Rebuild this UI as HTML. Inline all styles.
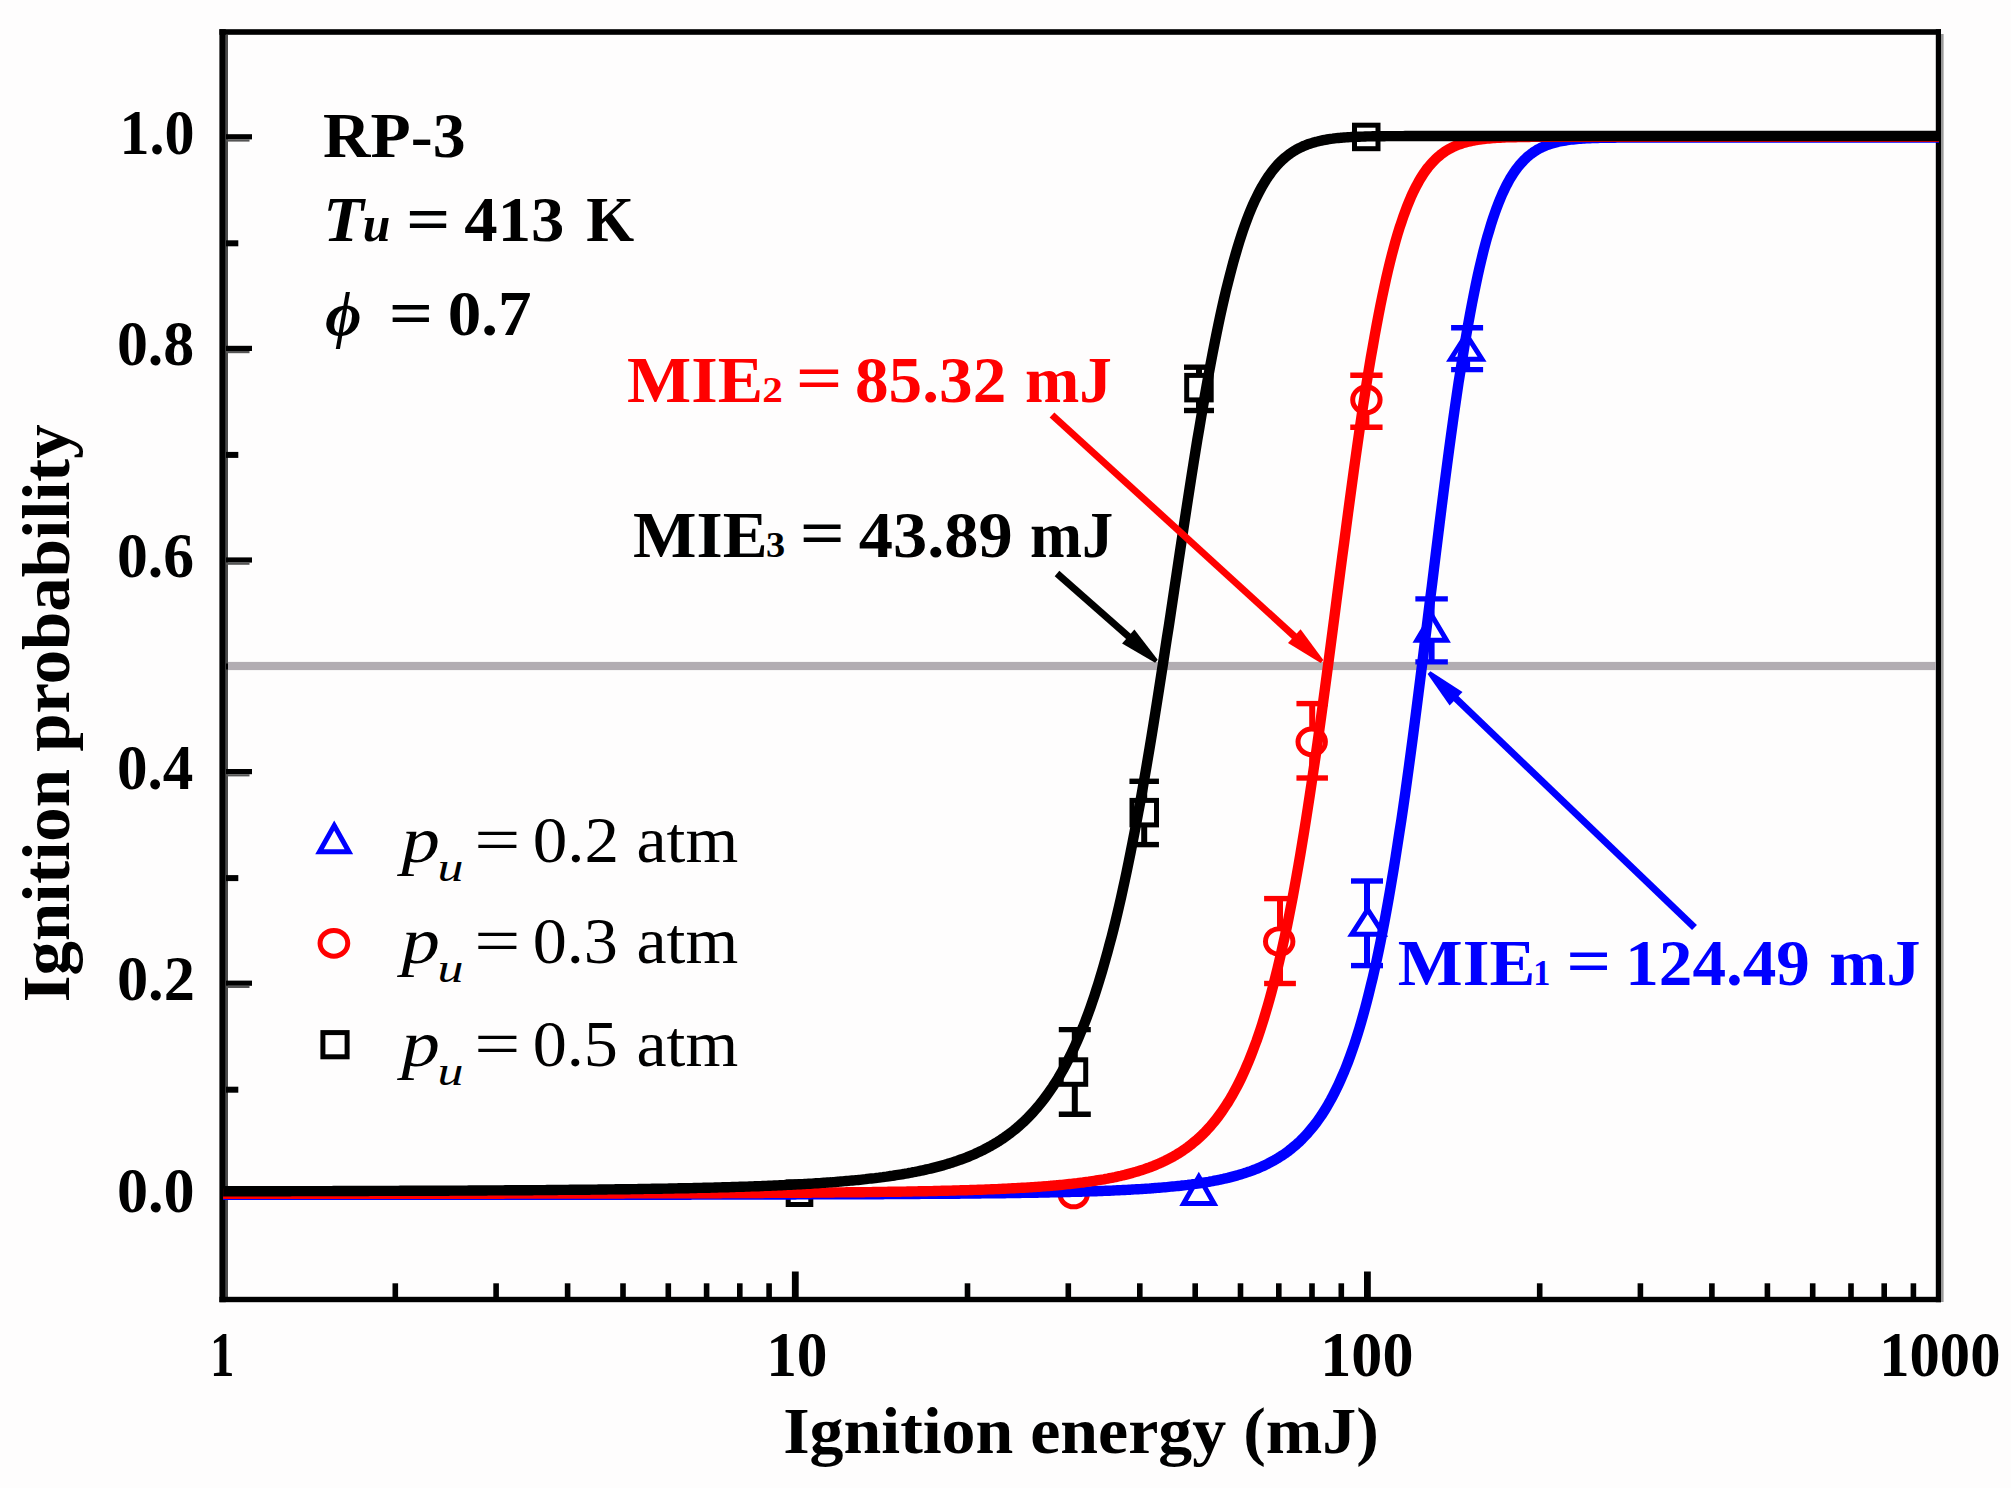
<!DOCTYPE html>
<html lang="en"><head><meta charset="utf-8"><title>Ignition probability vs ignition energy</title>
<style>html,body{margin:0;padding:0;background:#fefdfd;}svg{display:block;}text{font-family:"Liberation Serif",serif;}.b{font-weight:bold;}.i{font-style:italic;}</style></head><body>
<svg width="2011" height="1488" viewBox="0 0 2011 1488">
<rect x="0" y="0" width="2011" height="1488" fill="#fefdfd"/>
<g fill="#000">
<rect x="219.4" y="29.2" width="6.4" height="1273"/>
<rect x="225.8" y="34.8" width="2.2" height="1262.2" fill="#4a4a4a"/>
<rect x="219.4" y="29.2" width="1721.6" height="5.6"/>
<rect x="1935.8" y="29.2" width="5.2" height="1273"/>
<rect x="1941" y="34" width="2.6" height="1268" fill="#9a9a9a"/>
<rect x="219.4" y="1296.8" width="1721.6" height="5.4"/>
<rect x="226" y="1192.2" width="26" height="5.2"/>
<rect x="226" y="1197.4" width="23.5" height="2.2" fill="#555"/>
<rect x="226" y="1086.7" width="12.3" height="6"/>
<rect x="226" y="980.6" width="26" height="5.2"/>
<rect x="226" y="985.8" width="23.5" height="2.2" fill="#555"/>
<rect x="226" y="875.1" width="12.3" height="6"/>
<rect x="226" y="769.0" width="26" height="5.2"/>
<rect x="226" y="774.2" width="23.5" height="2.2" fill="#555"/>
<rect x="226" y="663.5" width="12.3" height="6"/>
<rect x="226" y="557.4" width="26" height="5.2"/>
<rect x="226" y="562.6" width="23.5" height="2.2" fill="#555"/>
<rect x="226" y="451.9" width="12.3" height="6"/>
<rect x="226" y="345.8" width="26" height="5.2"/>
<rect x="226" y="351.0" width="23.5" height="2.2" fill="#555"/>
<rect x="226" y="240.3" width="12.3" height="6"/>
<rect x="226" y="134.2" width="26" height="5.2"/>
<rect x="226" y="139.4" width="23.5" height="2.2" fill="#555"/>
<rect x="392.5" y="1283.3" width="5.6" height="15"/>
<rect x="493.3" y="1283.3" width="5.6" height="15"/>
<rect x="564.8" y="1283.3" width="5.6" height="15"/>
<rect x="620.2" y="1283.3" width="5.6" height="15"/>
<rect x="665.5" y="1283.3" width="5.6" height="15"/>
<rect x="703.8" y="1283.3" width="5.6" height="15"/>
<rect x="737.0" y="1283.3" width="5.6" height="15"/>
<rect x="766.3" y="1283.3" width="5.6" height="15"/>
<rect x="791.9" y="1271.5" width="6.8" height="27"/>
<rect x="964.7" y="1283.3" width="5.6" height="15"/>
<rect x="1065.5" y="1283.3" width="5.6" height="15"/>
<rect x="1137.0" y="1283.3" width="5.6" height="15"/>
<rect x="1192.4" y="1283.3" width="5.6" height="15"/>
<rect x="1237.7" y="1283.3" width="5.6" height="15"/>
<rect x="1276.0" y="1283.3" width="5.6" height="15"/>
<rect x="1309.2" y="1283.3" width="5.6" height="15"/>
<rect x="1338.5" y="1283.3" width="5.6" height="15"/>
<rect x="1364.0" y="1271.5" width="6.8" height="27"/>
<rect x="1536.9" y="1283.3" width="5.6" height="15"/>
<rect x="1637.6" y="1283.3" width="5.6" height="15"/>
<rect x="1709.1" y="1283.3" width="5.6" height="15"/>
<rect x="1764.6" y="1283.3" width="5.6" height="15"/>
<rect x="1809.9" y="1283.3" width="5.6" height="15"/>
<rect x="1848.2" y="1283.3" width="5.6" height="15"/>
<rect x="1881.4" y="1283.3" width="5.6" height="15"/>
<rect x="1910.6" y="1283.3" width="5.6" height="15"/>
</g>
<rect x="228" y="661.9" width="1708" height="8.2" fill="#b2adb2"/>
<path d="M1198.8,1176.7 L1214.0,1203.5 L1183.6,1203.5 Z" fill="#fff" stroke="#00f" stroke-width="5.0" stroke-linejoin="miter"/>
<line x1="1367.0" y1="881.0" x2="1367.0" y2="965.6" stroke="#00f" stroke-width="6.0"/><line x1="1351.0" y1="881.0" x2="1383.0" y2="881.0" stroke="#00f" stroke-width="5.4"/><line x1="1351.0" y1="965.6" x2="1383.0" y2="965.6" stroke="#00f" stroke-width="5.4"/>
<path d="M1367.7,909.6 L1383.6,934.3 L1351.8,934.3 Z" fill="#fff" stroke="#00f" stroke-width="5.0" stroke-linejoin="miter"/>
<line x1="1431.6" y1="598.9" x2="1431.6" y2="661.9" stroke="#00f" stroke-width="6.0"/><line x1="1415.35" y1="598.9" x2="1447.85" y2="598.9" stroke="#00f" stroke-width="5.4"/><line x1="1415.35" y1="661.9" x2="1447.85" y2="661.9" stroke="#00f" stroke-width="5.4"/>
<path d="M1431.7,615.3 L1446.5,640.2 L1416.9,640.2 Z" fill="#fff" stroke="#00f" stroke-width="5.0" stroke-linejoin="miter"/>
<line x1="1467.1" y1="327.8" x2="1467.1" y2="369.6" stroke="#00f" stroke-width="6.0"/><line x1="1451.1" y1="327.8" x2="1483.1" y2="327.8" stroke="#00f" stroke-width="5.4"/><line x1="1451.1" y1="369.6" x2="1483.1" y2="369.6" stroke="#00f" stroke-width="5.4"/>
<path d="M1466.3,334.6 L1482.0,359.2 L1450.6,359.2 Z" fill="#fff" stroke="#00f" stroke-width="5.0" stroke-linejoin="miter"/>
<ellipse cx="1073.7" cy="1194.0" rx="13.70" ry="12.80" fill="#fff" stroke="#f00" stroke-width="5.0"/>
<line x1="1280.0" y1="898.6" x2="1280.0" y2="983.5" stroke="#f00" stroke-width="6.0"/><line x1="1264.1" y1="898.6" x2="1295.9" y2="898.6" stroke="#f00" stroke-width="5.4"/><line x1="1264.1" y1="983.5" x2="1295.9" y2="983.5" stroke="#f00" stroke-width="5.4"/>
<ellipse cx="1279.2" cy="941.5" rx="13.70" ry="12.80" fill="#fff" stroke="#f00" stroke-width="5.0"/>
<line x1="1312.2" y1="703.6" x2="1312.2" y2="778.0" stroke="#f00" stroke-width="6.0"/><line x1="1296.45" y1="703.6" x2="1327.95" y2="703.6" stroke="#f00" stroke-width="5.4"/><line x1="1296.45" y1="778.0" x2="1327.95" y2="778.0" stroke="#f00" stroke-width="5.4"/>
<ellipse cx="1311.7" cy="741.8" rx="13.70" ry="12.80" fill="#fff" stroke="#f00" stroke-width="5.0"/>
<line x1="1366.4" y1="375.3" x2="1366.4" y2="427.2" stroke="#f00" stroke-width="6.0"/><line x1="1350.25" y1="375.3" x2="1382.5500000000002" y2="375.3" stroke="#f00" stroke-width="5.4"/><line x1="1350.25" y1="427.2" x2="1382.5500000000002" y2="427.2" stroke="#f00" stroke-width="5.4"/>
<ellipse cx="1366.4" cy="399.8" rx="13.70" ry="12.80" fill="#fff" stroke="#f00" stroke-width="5.0"/>
<rect x="788.2" y="1181.9" width="22.6" height="22.6" fill="#fff" stroke="#000" stroke-width="5.0"/>
<line x1="1074.8" y1="1029.6" x2="1074.8" y2="1114.3" stroke="#000" stroke-width="6.0"/><line x1="1058.8" y1="1029.6" x2="1090.8" y2="1029.6" stroke="#000" stroke-width="5.4"/><line x1="1058.8" y1="1114.3" x2="1090.8" y2="1114.3" stroke="#000" stroke-width="5.4"/>
<rect x="1061.2" y="1059.8" width="24.5" height="24.5" fill="#fff" stroke="#000" stroke-width="5.0"/>
<line x1="1144.2" y1="781.3" x2="1144.2" y2="844.6" stroke="#000" stroke-width="6.0"/><line x1="1129.45" y1="781.3" x2="1158.95" y2="781.3" stroke="#000" stroke-width="5.4"/><line x1="1129.45" y1="844.6" x2="1158.95" y2="844.6" stroke="#000" stroke-width="5.4"/>
<rect x="1132.0" y="800.4" width="24.5" height="24.5" fill="#fff" stroke="#000" stroke-width="5.0"/>
<line x1="1199.0" y1="367.2" x2="1199.0" y2="410.5" stroke="#000" stroke-width="6.0"/><line x1="1184.0" y1="367.2" x2="1214.0" y2="367.2" stroke="#000" stroke-width="5.4"/><line x1="1184.0" y1="410.5" x2="1214.0" y2="410.5" stroke="#000" stroke-width="5.4"/>
<rect x="1186.7" y="375.4" width="24.5" height="24.5" fill="#fff" stroke="#000" stroke-width="5.0"/>
<rect x="1354.5" y="125.2" width="23.5" height="23.5" fill="#fff" stroke="#000" stroke-width="5.0"/>
<rect x="1380" y="140.5" width="0" height="0" fill="none"/>
<path transform="translate(0,0.0)" d="M223.1,1194.9 L225.0,1194.9 L226.9,1194.9 L228.8,1194.9 L230.7,1194.9 L232.6,1194.9 L234.5,1194.9 L236.4,1194.9 L238.4,1194.9 L240.3,1194.9 L242.2,1194.9 L244.1,1194.9 L246.0,1194.9 L247.9,1194.9 L249.8,1194.9 L251.7,1194.9 L253.6,1194.9 L255.5,1194.9 L257.4,1194.9 L259.3,1194.9 L261.2,1194.9 L263.1,1194.9 L265.0,1194.9 L267.0,1194.9 L268.9,1194.9 L270.8,1194.9 L272.7,1194.9 L274.6,1194.9 L276.5,1194.9 L278.4,1194.9 L280.3,1194.9 L282.2,1194.9 L284.1,1194.9 L286.0,1194.9 L287.9,1194.9 L289.8,1194.9 L291.7,1194.9 L293.6,1194.9 L295.5,1194.9 L297.5,1194.9 L299.4,1194.9 L301.3,1194.9 L303.2,1194.9 L305.1,1194.9 L307.0,1194.9 L308.9,1194.9 L310.8,1194.9 L312.7,1194.9 L314.6,1194.9 L316.5,1194.9 L318.4,1194.9 L320.3,1194.9 L322.2,1194.9 L324.1,1194.9 L326.1,1194.9 L328.0,1194.9 L329.9,1194.9 L331.8,1194.9 L333.7,1194.9 L335.6,1194.9 L337.5,1194.9 L339.4,1194.9 L341.3,1194.9 L343.2,1194.9 L345.1,1194.9 L347.0,1194.9 L348.9,1194.9 L350.8,1194.9 L352.7,1194.9 L354.7,1194.9 L356.6,1194.9 L358.5,1194.9 L360.4,1194.9 L362.3,1194.9 L364.2,1194.9 L366.1,1194.9 L368.0,1194.9 L369.9,1194.9 L371.8,1194.9 L373.7,1194.9 L375.6,1194.9 L377.5,1194.9 L379.4,1194.9 L381.3,1194.9 L383.3,1194.9 L385.2,1194.9 L387.1,1194.9 L389.0,1194.9 L390.9,1194.9 L392.8,1194.9 L394.7,1194.9 L396.6,1194.9 L398.5,1194.9 L400.4,1194.9 L402.3,1194.9 L404.2,1194.9 L406.1,1194.9 L408.0,1194.9 L409.9,1194.8 L411.8,1194.8 L413.8,1194.8 L415.7,1194.8 L417.6,1194.8 L419.5,1194.8 L421.4,1194.8 L423.3,1194.8 L425.2,1194.8 L427.1,1194.8 L429.0,1194.8 L430.9,1194.8 L432.8,1194.8 L434.7,1194.8 L436.6,1194.8 L438.5,1194.8 L440.4,1194.8 L442.4,1194.8 L444.3,1194.8 L446.2,1194.8 L448.1,1194.8 L450.0,1194.8 L451.9,1194.8 L453.8,1194.8 L455.7,1194.8 L457.6,1194.8 L459.5,1194.8 L461.4,1194.8 L463.3,1194.8 L465.2,1194.8 L467.1,1194.8 L469.0,1194.8 L471.0,1194.8 L472.9,1194.8 L474.8,1194.8 L476.7,1194.8 L478.6,1194.8 L480.5,1194.8 L482.4,1194.8 L484.3,1194.8 L486.2,1194.8 L488.1,1194.8 L490.0,1194.8 L491.9,1194.8 L493.8,1194.8 L495.7,1194.8 L497.6,1194.8 L499.6,1194.8 L501.5,1194.8 L503.4,1194.8 L505.3,1194.8 L507.2,1194.8 L509.1,1194.8 L511.0,1194.8 L512.9,1194.8 L514.8,1194.8 L516.7,1194.8 L518.6,1194.8 L520.5,1194.8 L522.4,1194.8 L524.3,1194.8 L526.2,1194.8 L528.1,1194.8 L530.1,1194.8 L532.0,1194.8 L533.9,1194.8 L535.8,1194.8 L537.7,1194.8 L539.6,1194.8 L541.5,1194.8 L543.4,1194.8 L545.3,1194.8 L547.2,1194.8 L549.1,1194.8 L551.0,1194.8 L552.9,1194.8 L554.8,1194.8 L556.7,1194.8 L558.7,1194.8 L560.6,1194.8 L562.5,1194.8 L564.4,1194.8 L566.3,1194.8 L568.2,1194.8 L570.1,1194.8 L572.0,1194.8 L573.9,1194.8 L575.8,1194.8 L577.7,1194.8 L579.6,1194.8 L581.5,1194.8 L583.4,1194.8 L585.3,1194.8 L587.3,1194.8 L589.2,1194.8 L591.1,1194.8 L593.0,1194.8 L594.9,1194.8 L596.8,1194.7 L598.7,1194.7 L600.6,1194.7 L602.5,1194.7 L604.4,1194.7 L606.3,1194.7 L608.2,1194.7 L610.1,1194.7 L612.0,1194.7 L613.9,1194.7 L615.9,1194.7 L617.8,1194.7 L619.7,1194.7 L621.6,1194.7 L623.5,1194.7 L625.4,1194.7 L627.3,1194.7 L629.2,1194.7 L631.1,1194.7 L633.0,1194.7 L634.9,1194.7 L636.8,1194.7 L638.7,1194.7 L640.6,1194.7 L642.5,1194.7 L644.4,1194.7 L646.4,1194.7 L648.3,1194.7 L650.2,1194.7 L652.1,1194.7 L654.0,1194.7 L655.9,1194.7 L657.8,1194.7 L659.7,1194.7 L661.6,1194.7 L663.5,1194.7 L665.4,1194.7 L667.3,1194.7 L669.2,1194.7 L671.1,1194.7 L673.0,1194.7 L675.0,1194.7 L676.9,1194.7 L678.8,1194.7 L680.7,1194.7 L682.6,1194.7 L684.5,1194.7 L686.4,1194.7 L688.3,1194.7 L690.2,1194.7 L692.1,1194.6 L694.0,1194.6 L695.9,1194.6 L697.8,1194.6 L699.7,1194.6 L701.6,1194.6 L703.6,1194.6 L705.5,1194.6 L707.4,1194.6 L709.3,1194.6 L711.2,1194.6 L713.1,1194.6 L715.0,1194.6 L716.9,1194.6 L718.8,1194.6 L720.7,1194.6 L722.6,1194.6 L724.5,1194.6 L726.4,1194.6 L728.3,1194.6 L730.2,1194.6 L732.2,1194.6 L734.1,1194.6 L736.0,1194.6 L737.9,1194.6 L739.8,1194.6 L741.7,1194.6 L743.6,1194.6 L745.5,1194.6 L747.4,1194.6 L749.3,1194.6 L751.2,1194.6 L753.1,1194.5 L755.0,1194.5 L756.9,1194.5 L758.8,1194.5 L760.7,1194.5 L762.7,1194.5 L764.6,1194.5 L766.5,1194.5 L768.4,1194.5 L770.3,1194.5 L772.2,1194.5 L774.1,1194.5 L776.0,1194.5 L777.9,1194.5 L779.8,1194.5 L781.7,1194.5 L783.6,1194.5 L785.5,1194.5 L787.4,1194.5 L789.3,1194.5 L791.3,1194.5 L793.2,1194.5 L795.1,1194.5 L797.0,1194.4 L798.9,1194.4 L800.8,1194.4 L802.7,1194.4 L804.6,1194.4 L806.5,1194.4 L808.4,1194.4 L810.3,1194.4 L812.2,1194.4 L814.1,1194.4 L816.0,1194.4 L817.9,1194.4 L819.9,1194.4 L821.8,1194.4 L823.7,1194.4 L825.6,1194.4 L827.5,1194.4 L829.4,1194.4 L831.3,1194.4 L833.2,1194.3 L835.1,1194.3 L837.0,1194.3 L838.9,1194.3 L840.8,1194.3 L842.7,1194.3 L844.6,1194.3 L846.5,1194.3 L848.5,1194.3 L850.4,1194.3 L852.3,1194.3 L854.2,1194.3 L856.1,1194.3 L858.0,1194.3 L859.9,1194.2 L861.8,1194.2 L863.7,1194.2 L865.6,1194.2 L867.5,1194.2 L869.4,1194.2 L871.3,1194.2 L873.2,1194.2 L875.1,1194.2 L877.0,1194.2 L879.0,1194.2 L880.9,1194.2 L882.8,1194.2 L884.7,1194.1 L886.6,1194.1 L888.5,1194.1 L890.4,1194.1 L892.3,1194.1 L894.2,1194.1 L896.1,1194.1 L898.0,1194.1 L899.9,1194.1 L901.8,1194.1 L903.7,1194.0 L905.6,1194.0 L907.6,1194.0 L909.5,1194.0 L911.4,1194.0 L913.3,1194.0 L915.2,1194.0 L917.1,1194.0 L919.0,1194.0 L920.9,1193.9 L922.8,1193.9 L924.7,1193.9 L926.6,1193.9 L928.5,1193.9 L930.4,1193.9 L932.3,1193.9 L934.2,1193.9 L936.2,1193.8 L938.1,1193.8 L940.0,1193.8 L941.9,1193.8 L943.8,1193.8 L945.7,1193.8 L947.6,1193.8 L949.5,1193.7 L951.4,1193.7 L953.3,1193.7 L955.2,1193.7 L957.1,1193.7 L959.0,1193.7 L960.9,1193.6 L962.8,1193.6 L964.8,1193.6 L966.7,1193.6 L968.6,1193.6 L970.5,1193.6 L972.4,1193.5 L974.3,1193.5 L976.2,1193.5 L978.1,1193.5 L980.0,1193.5 L981.9,1193.4 L983.8,1193.4 L985.7,1193.4 L987.6,1193.4 L989.5,1193.4 L991.4,1193.3 L993.3,1193.3 L995.3,1193.3 L997.2,1193.3 L999.1,1193.2 L1001.0,1193.2 L1002.9,1193.2 L1004.8,1193.2 L1006.7,1193.1 L1008.6,1193.1 L1010.5,1193.1 L1012.4,1193.1 L1014.3,1193.0 L1016.2,1193.0 L1018.1,1193.0 L1020.0,1193.0 L1021.9,1192.9 L1023.9,1192.9 L1025.8,1192.9 L1027.7,1192.8 L1029.6,1192.8 L1031.5,1192.8 L1033.4,1192.7 L1035.3,1192.7 L1037.2,1192.7 L1039.1,1192.6 L1041.0,1192.6 L1042.9,1192.6 L1044.8,1192.5 L1046.7,1192.5 L1048.6,1192.5 L1050.5,1192.4 L1052.5,1192.4 L1054.4,1192.3 L1056.3,1192.3 L1058.2,1192.2 L1060.1,1192.2 L1062.0,1192.2 L1063.9,1192.1 L1065.8,1192.1 L1067.7,1192.0 L1069.6,1192.0 L1071.5,1191.9 L1073.4,1191.9 L1075.3,1191.8 L1077.2,1191.8 L1079.1,1191.7 L1081.0,1191.7 L1083.0,1191.6 L1084.9,1191.5 L1086.8,1191.5 L1088.7,1191.4 L1090.6,1191.4 L1092.5,1191.3 L1094.4,1191.2 L1096.3,1191.2 L1098.2,1191.1 L1100.1,1191.0 L1102.0,1191.0 L1103.9,1190.9 L1105.8,1190.8 L1107.7,1190.7 L1109.6,1190.7 L1111.6,1190.6 L1113.5,1190.5 L1115.4,1190.4 L1117.3,1190.3 L1119.2,1190.2 L1121.1,1190.1 L1123.0,1190.0 L1124.9,1190.0 L1126.8,1189.9 L1128.7,1189.8 L1130.6,1189.7 L1132.5,1189.5 L1134.4,1189.4 L1136.3,1189.3 L1138.2,1189.2 L1140.2,1189.1 L1142.1,1189.0 L1144.0,1188.9 L1145.9,1188.7 L1147.8,1188.6 L1149.7,1188.5 L1151.6,1188.3 L1153.5,1188.2 L1155.4,1188.0 L1157.3,1187.9 L1159.2,1187.7 L1161.1,1187.6 L1163.0,1187.4 L1164.9,1187.3 L1166.8,1187.1 L1168.8,1186.9 L1170.7,1186.7 L1172.6,1186.5 L1174.5,1186.4 L1176.4,1186.2 L1178.3,1186.0 L1180.2,1185.8 L1182.1,1185.5 L1184.0,1185.3 L1185.9,1185.1 L1187.8,1184.9 L1189.7,1184.6 L1191.6,1184.4 L1193.5,1184.1 L1195.4,1183.9 L1197.3,1183.6 L1199.3,1183.3 L1201.2,1183.0 L1203.1,1182.7 L1205.0,1182.4 L1206.9,1182.1 L1208.8,1181.8 L1210.7,1181.4 L1212.6,1181.1 L1214.5,1180.7 L1216.4,1180.3 L1218.3,1180.0 L1220.2,1179.6 L1222.1,1179.2 L1224.0,1178.7 L1225.9,1178.3 L1227.9,1177.9 L1229.8,1177.4 L1231.7,1176.9 L1233.6,1176.4 L1235.5,1175.9 L1237.4,1175.4 L1239.3,1174.8 L1241.2,1174.2 L1243.1,1173.6 L1245.0,1173.0 L1246.9,1172.4 L1248.8,1171.7 L1250.7,1171.1 L1252.6,1170.4 L1254.5,1169.6 L1256.5,1168.9 L1258.4,1168.1 L1260.3,1167.3 L1262.2,1166.4 L1264.1,1165.6 L1266.0,1164.6 L1267.9,1163.7 L1269.8,1162.7 L1271.7,1161.7 L1273.6,1160.7 L1275.5,1159.6 L1277.4,1158.4 L1279.3,1157.3 L1281.2,1156.0 L1283.1,1154.8 L1285.1,1153.5 L1287.0,1152.1 L1288.9,1150.7 L1290.8,1149.2 L1292.7,1147.6 L1294.6,1146.0 L1296.5,1144.4 L1298.4,1142.7 L1300.3,1140.9 L1302.2,1139.0 L1304.1,1137.0 L1306.0,1135.0 L1307.9,1132.9 L1309.8,1130.7 L1311.7,1128.4 L1313.6,1126.1 L1315.6,1123.6 L1317.5,1121.0 L1319.4,1118.3 L1321.3,1115.6 L1323.2,1112.6 L1325.1,1109.6 L1327.0,1106.5 L1328.9,1103.2 L1330.8,1099.8 L1332.7,1096.2 L1334.6,1092.5 L1336.5,1088.7 L1338.4,1084.7 L1340.3,1080.5 L1342.2,1076.1 L1344.2,1071.6 L1346.1,1066.9 L1348.0,1062.0 L1349.9,1056.9 L1351.8,1051.6 L1353.7,1046.1 L1355.6,1040.3 L1357.5,1034.4 L1359.4,1028.2 L1361.3,1021.7 L1363.2,1015.0 L1365.1,1008.1 L1367.0,1000.9 L1368.9,993.4 L1370.8,985.6 L1372.8,977.5 L1374.7,969.2 L1376.6,960.6 L1378.5,951.6 L1380.4,942.4 L1382.3,932.8 L1384.2,922.9 L1386.1,912.7 L1388.0,902.2 L1389.9,891.4 L1391.8,880.2 L1393.7,868.8 L1395.6,857.0 L1397.5,844.8 L1399.4,832.4 L1401.4,819.7 L1403.3,806.7 L1405.2,793.4 L1407.1,779.8 L1409.0,765.9 L1410.9,751.8 L1412.8,737.5 L1414.7,722.9 L1416.6,708.2 L1418.5,693.2 L1420.4,678.1 L1422.3,662.9 L1424.2,647.5 L1426.1,632.1 L1428.0,616.6 L1429.9,601.1 L1431.9,585.6 L1433.8,570.1 L1435.7,554.6 L1437.6,539.3 L1439.5,524.0 L1441.4,508.9 L1443.3,493.9 L1445.2,479.1 L1447.1,464.6 L1449.0,450.3 L1450.9,436.2 L1452.8,422.5 L1454.7,409.0 L1456.6,395.9 L1458.5,383.1 L1460.5,370.7 L1462.4,358.6 L1464.3,346.9 L1466.2,335.6 L1468.1,324.7 L1470.0,314.2 L1471.9,304.1 L1473.8,294.4 L1475.7,285.1 L1477.6,276.2 L1479.5,267.7 L1481.4,259.6 L1483.3,251.8 L1485.2,244.5 L1487.1,237.5 L1489.1,230.9 L1491.0,224.6 L1492.9,218.7 L1494.8,213.1 L1496.7,207.8 L1498.6,202.9 L1500.5,198.2 L1502.4,193.8 L1504.3,189.7 L1506.2,185.8 L1508.1,182.2 L1510.0,178.8 L1511.9,175.7 L1513.8,172.7 L1515.7,170.0 L1517.7,167.4 L1519.6,165.0 L1521.5,162.8 L1523.4,160.8 L1525.3,158.9 L1527.2,157.1 L1529.1,155.5 L1531.0,154.0 L1532.9,152.6 L1534.8,151.3 L1536.7,150.1 L1538.6,149.0 L1540.5,148.0 L1542.4,147.1 L1544.3,146.2 L1546.2,145.4 L1548.2,144.7 L1550.1,144.1 L1552.0,143.4 L1553.9,142.9 L1555.8,142.4 L1557.7,141.9 L1559.6,141.5 L1561.5,141.1 L1563.4,140.8 L1565.3,140.5 L1567.2,140.2 L1569.1,139.9 L1571.0,139.7 L1572.9,139.5 L1574.8,139.3 L1576.8,139.1 L1578.7,138.9 L1580.6,138.8 L1582.5,138.6 L1584.4,138.5 L1586.3,138.4 L1588.2,138.3 L1590.1,138.2 L1592.0,138.1 L1593.9,138.1 L1595.8,138.0 L1597.7,138.0 L1599.6,137.9 L1601.5,137.9 L1603.4,137.8 L1605.4,137.8 L1607.3,137.8 L1609.2,137.7 L1611.1,137.7 L1613.0,137.7 L1614.9,137.7 L1616.8,137.6 L1618.7,137.6 L1620.6,137.6 L1622.5,137.6 L1624.4,137.6 L1626.3,137.6 L1628.2,137.6 L1630.1,137.6 L1632.0,137.5 L1634.0,137.5 L1635.9,137.5 L1637.8,137.5 L1639.7,137.5 L1641.6,137.5 L1643.5,137.5 L1645.4,137.5 L1647.3,137.5 L1649.2,137.5 L1651.1,137.5 L1653.0,137.5 L1654.9,137.5 L1656.8,137.5 L1658.7,137.5 L1660.6,137.5 L1662.5,137.5 L1664.5,137.5 L1666.4,137.5 L1668.3,137.5 L1670.2,137.5 L1672.1,137.5 L1674.0,137.5 L1675.9,137.5 L1677.8,137.5 L1679.7,137.5 L1681.6,137.5 L1683.5,137.5 L1685.4,137.5 L1687.3,137.5 L1689.2,137.5 L1691.1,137.5 L1693.1,137.5 L1695.0,137.5 L1696.9,137.5 L1698.8,137.5 L1700.7,137.5 L1702.6,137.5 L1704.5,137.5 L1706.4,137.5 L1708.3,137.5 L1710.2,137.5 L1712.1,137.5 L1714.0,137.5 L1715.9,137.5 L1717.8,137.5 L1719.7,137.5 L1721.7,137.5 L1723.6,137.5 L1725.5,137.5 L1727.4,137.5 L1729.3,137.5 L1731.2,137.5 L1733.1,137.5 L1735.0,137.5 L1736.9,137.5 L1738.8,137.5 L1740.7,137.5 L1742.6,137.5 L1744.5,137.5 L1746.4,137.5 L1748.3,137.5 L1750.3,137.5 L1752.2,137.5 L1754.1,137.5 L1756.0,137.5 L1757.9,137.5 L1759.8,137.5 L1761.7,137.5 L1763.6,137.5 L1765.5,137.5 L1767.4,137.5 L1769.3,137.5 L1771.2,137.5 L1773.1,137.5 L1775.0,137.5 L1776.9,137.5 L1778.8,137.5 L1780.8,137.5 L1782.7,137.5 L1784.6,137.5 L1786.5,137.5 L1788.4,137.5 L1790.3,137.5 L1792.2,137.5 L1794.1,137.5 L1796.0,137.5 L1797.9,137.5 L1799.8,137.5 L1801.7,137.5 L1803.6,137.5 L1805.5,137.5 L1807.4,137.5 L1809.4,137.5 L1811.3,137.5 L1813.2,137.5 L1815.1,137.5 L1817.0,137.5 L1818.9,137.5 L1820.8,137.5 L1822.7,137.5 L1824.6,137.5 L1826.5,137.5 L1828.4,137.5 L1830.3,137.5 L1832.2,137.5 L1834.1,137.5 L1836.0,137.5 L1838.0,137.5 L1839.9,137.5 L1841.8,137.5 L1843.7,137.5 L1845.6,137.5 L1847.5,137.5 L1849.4,137.5 L1851.3,137.5 L1853.2,137.5 L1855.1,137.5 L1857.0,137.5 L1858.9,137.5 L1860.8,137.5 L1862.7,137.5 L1864.6,137.5 L1866.6,137.5 L1868.5,137.5 L1870.4,137.5 L1872.3,137.5 L1874.2,137.5 L1876.1,137.5 L1878.0,137.5 L1879.9,137.5 L1881.8,137.5 L1883.7,137.5 L1885.6,137.5 L1887.5,137.5 L1889.4,137.5 L1891.3,137.5 L1893.2,137.5 L1895.1,137.5 L1897.1,137.5 L1899.0,137.5 L1900.9,137.5 L1902.8,137.5 L1904.7,137.5 L1906.6,137.5 L1908.5,137.5 L1910.4,137.5 L1912.3,137.5 L1914.2,137.5 L1916.1,137.5 L1918.0,137.5 L1919.9,137.5 L1921.8,137.5 L1923.7,137.5 L1925.7,137.5 L1927.6,137.5 L1929.5,137.5 L1931.4,137.5 L1933.3,137.5 L1935.2,137.5 L1937.1,137.5 L1939.0,137.5" fill="none" stroke="#0000ff" stroke-width="10.4" stroke-linejoin="round" stroke-linecap="butt"/>
<path transform="translate(0,-0.7)" d="M223.1,1194.5 L225.0,1194.5 L226.9,1194.5 L228.8,1194.5 L230.7,1194.5 L232.6,1194.5 L234.5,1194.5 L236.4,1194.5 L238.4,1194.5 L240.3,1194.5 L242.2,1194.5 L244.1,1194.5 L246.0,1194.5 L247.9,1194.5 L249.8,1194.5 L251.7,1194.5 L253.6,1194.5 L255.5,1194.5 L257.4,1194.5 L259.3,1194.5 L261.2,1194.5 L263.1,1194.5 L265.0,1194.5 L267.0,1194.5 L268.9,1194.5 L270.8,1194.5 L272.7,1194.5 L274.6,1194.5 L276.5,1194.5 L278.4,1194.5 L280.3,1194.5 L282.2,1194.5 L284.1,1194.5 L286.0,1194.5 L287.9,1194.5 L289.8,1194.5 L291.7,1194.5 L293.6,1194.5 L295.5,1194.5 L297.5,1194.5 L299.4,1194.5 L301.3,1194.5 L303.2,1194.5 L305.1,1194.5 L307.0,1194.5 L308.9,1194.5 L310.8,1194.5 L312.7,1194.5 L314.6,1194.5 L316.5,1194.5 L318.4,1194.5 L320.3,1194.5 L322.2,1194.5 L324.1,1194.5 L326.1,1194.5 L328.0,1194.5 L329.9,1194.5 L331.8,1194.5 L333.7,1194.5 L335.6,1194.5 L337.5,1194.5 L339.4,1194.5 L341.3,1194.5 L343.2,1194.5 L345.1,1194.5 L347.0,1194.5 L348.9,1194.5 L350.8,1194.5 L352.7,1194.5 L354.7,1194.5 L356.6,1194.5 L358.5,1194.5 L360.4,1194.5 L362.3,1194.5 L364.2,1194.5 L366.1,1194.5 L368.0,1194.5 L369.9,1194.5 L371.8,1194.5 L373.7,1194.5 L375.6,1194.5 L377.5,1194.5 L379.4,1194.5 L381.3,1194.5 L383.3,1194.5 L385.2,1194.5 L387.1,1194.5 L389.0,1194.5 L390.9,1194.5 L392.8,1194.5 L394.7,1194.5 L396.6,1194.4 L398.5,1194.4 L400.4,1194.4 L402.3,1194.4 L404.2,1194.4 L406.1,1194.4 L408.0,1194.4 L409.9,1194.4 L411.8,1194.4 L413.8,1194.4 L415.7,1194.4 L417.6,1194.4 L419.5,1194.4 L421.4,1194.4 L423.3,1194.4 L425.2,1194.4 L427.1,1194.4 L429.0,1194.4 L430.9,1194.4 L432.8,1194.4 L434.7,1194.4 L436.6,1194.4 L438.5,1194.4 L440.4,1194.4 L442.4,1194.4 L444.3,1194.4 L446.2,1194.4 L448.1,1194.4 L450.0,1194.4 L451.9,1194.4 L453.8,1194.4 L455.7,1194.4 L457.6,1194.4 L459.5,1194.4 L461.4,1194.4 L463.3,1194.4 L465.2,1194.4 L467.1,1194.4 L469.0,1194.4 L471.0,1194.4 L472.9,1194.4 L474.8,1194.4 L476.7,1194.4 L478.6,1194.4 L480.5,1194.4 L482.4,1194.4 L484.3,1194.4 L486.2,1194.4 L488.1,1194.4 L490.0,1194.4 L491.9,1194.4 L493.8,1194.4 L495.7,1194.4 L497.6,1194.4 L499.6,1194.4 L501.5,1194.4 L503.4,1194.4 L505.3,1194.3 L507.2,1194.3 L509.1,1194.3 L511.0,1194.3 L512.9,1194.3 L514.8,1194.3 L516.7,1194.3 L518.6,1194.3 L520.5,1194.3 L522.4,1194.3 L524.3,1194.3 L526.2,1194.3 L528.1,1194.3 L530.1,1194.3 L532.0,1194.3 L533.9,1194.3 L535.8,1194.3 L537.7,1194.3 L539.6,1194.3 L541.5,1194.3 L543.4,1194.3 L545.3,1194.3 L547.2,1194.3 L549.1,1194.3 L551.0,1194.3 L552.9,1194.3 L554.8,1194.3 L556.7,1194.3 L558.7,1194.3 L560.6,1194.3 L562.5,1194.3 L564.4,1194.3 L566.3,1194.3 L568.2,1194.3 L570.1,1194.3 L572.0,1194.3 L573.9,1194.3 L575.8,1194.2 L577.7,1194.2 L579.6,1194.2 L581.5,1194.2 L583.4,1194.2 L585.3,1194.2 L587.3,1194.2 L589.2,1194.2 L591.1,1194.2 L593.0,1194.2 L594.9,1194.2 L596.8,1194.2 L598.7,1194.2 L600.6,1194.2 L602.5,1194.2 L604.4,1194.2 L606.3,1194.2 L608.2,1194.2 L610.1,1194.2 L612.0,1194.2 L613.9,1194.2 L615.9,1194.2 L617.8,1194.2 L619.7,1194.2 L621.6,1194.2 L623.5,1194.2 L625.4,1194.1 L627.3,1194.1 L629.2,1194.1 L631.1,1194.1 L633.0,1194.1 L634.9,1194.1 L636.8,1194.1 L638.7,1194.1 L640.6,1194.1 L642.5,1194.1 L644.4,1194.1 L646.4,1194.1 L648.3,1194.1 L650.2,1194.1 L652.1,1194.1 L654.0,1194.1 L655.9,1194.1 L657.8,1194.1 L659.7,1194.1 L661.6,1194.1 L663.5,1194.1 L665.4,1194.0 L667.3,1194.0 L669.2,1194.0 L671.1,1194.0 L673.0,1194.0 L675.0,1194.0 L676.9,1194.0 L678.8,1194.0 L680.7,1194.0 L682.6,1194.0 L684.5,1194.0 L686.4,1194.0 L688.3,1194.0 L690.2,1194.0 L692.1,1194.0 L694.0,1194.0 L695.9,1193.9 L697.8,1193.9 L699.7,1193.9 L701.6,1193.9 L703.6,1193.9 L705.5,1193.9 L707.4,1193.9 L709.3,1193.9 L711.2,1193.9 L713.1,1193.9 L715.0,1193.9 L716.9,1193.9 L718.8,1193.9 L720.7,1193.9 L722.6,1193.8 L724.5,1193.8 L726.4,1193.8 L728.3,1193.8 L730.2,1193.8 L732.2,1193.8 L734.1,1193.8 L736.0,1193.8 L737.9,1193.8 L739.8,1193.8 L741.7,1193.8 L743.6,1193.8 L745.5,1193.7 L747.4,1193.7 L749.3,1193.7 L751.2,1193.7 L753.1,1193.7 L755.0,1193.7 L756.9,1193.7 L758.8,1193.7 L760.7,1193.7 L762.7,1193.7 L764.6,1193.6 L766.5,1193.6 L768.4,1193.6 L770.3,1193.6 L772.2,1193.6 L774.1,1193.6 L776.0,1193.6 L777.9,1193.6 L779.8,1193.6 L781.7,1193.6 L783.6,1193.5 L785.5,1193.5 L787.4,1193.5 L789.3,1193.5 L791.3,1193.5 L793.2,1193.5 L795.1,1193.5 L797.0,1193.5 L798.9,1193.4 L800.8,1193.4 L802.7,1193.4 L804.6,1193.4 L806.5,1193.4 L808.4,1193.4 L810.3,1193.4 L812.2,1193.3 L814.1,1193.3 L816.0,1193.3 L817.9,1193.3 L819.9,1193.3 L821.8,1193.3 L823.7,1193.2 L825.6,1193.2 L827.5,1193.2 L829.4,1193.2 L831.3,1193.2 L833.2,1193.2 L835.1,1193.1 L837.0,1193.1 L838.9,1193.1 L840.8,1193.1 L842.7,1193.1 L844.6,1193.1 L846.5,1193.0 L848.5,1193.0 L850.4,1193.0 L852.3,1193.0 L854.2,1193.0 L856.1,1192.9 L858.0,1192.9 L859.9,1192.9 L861.8,1192.9 L863.7,1192.9 L865.6,1192.8 L867.5,1192.8 L869.4,1192.8 L871.3,1192.8 L873.2,1192.7 L875.1,1192.7 L877.0,1192.7 L879.0,1192.7 L880.9,1192.6 L882.8,1192.6 L884.7,1192.6 L886.6,1192.6 L888.5,1192.5 L890.4,1192.5 L892.3,1192.5 L894.2,1192.4 L896.1,1192.4 L898.0,1192.4 L899.9,1192.4 L901.8,1192.3 L903.7,1192.3 L905.6,1192.3 L907.6,1192.2 L909.5,1192.2 L911.4,1192.2 L913.3,1192.1 L915.2,1192.1 L917.1,1192.1 L919.0,1192.0 L920.9,1192.0 L922.8,1192.0 L924.7,1191.9 L926.6,1191.9 L928.5,1191.8 L930.4,1191.8 L932.3,1191.8 L934.2,1191.7 L936.2,1191.7 L938.1,1191.6 L940.0,1191.6 L941.9,1191.5 L943.8,1191.5 L945.7,1191.4 L947.6,1191.4 L949.5,1191.3 L951.4,1191.3 L953.3,1191.2 L955.2,1191.2 L957.1,1191.1 L959.0,1191.1 L960.9,1191.0 L962.8,1191.0 L964.8,1190.9 L966.7,1190.9 L968.6,1190.8 L970.5,1190.7 L972.4,1190.7 L974.3,1190.6 L976.2,1190.6 L978.1,1190.5 L980.0,1190.4 L981.9,1190.4 L983.8,1190.3 L985.7,1190.2 L987.6,1190.1 L989.5,1190.1 L991.4,1190.0 L993.3,1189.9 L995.3,1189.8 L997.2,1189.8 L999.1,1189.7 L1001.0,1189.6 L1002.9,1189.5 L1004.8,1189.4 L1006.7,1189.3 L1008.6,1189.2 L1010.5,1189.1 L1012.4,1189.0 L1014.3,1188.9 L1016.2,1188.8 L1018.1,1188.7 L1020.0,1188.6 L1021.9,1188.5 L1023.9,1188.4 L1025.8,1188.3 L1027.7,1188.2 L1029.6,1188.1 L1031.5,1187.9 L1033.4,1187.8 L1035.3,1187.7 L1037.2,1187.6 L1039.1,1187.4 L1041.0,1187.3 L1042.9,1187.1 L1044.8,1187.0 L1046.7,1186.8 L1048.6,1186.7 L1050.5,1186.5 L1052.5,1186.4 L1054.4,1186.2 L1056.3,1186.0 L1058.2,1185.9 L1060.1,1185.7 L1062.0,1185.5 L1063.9,1185.3 L1065.8,1185.1 L1067.7,1184.9 L1069.6,1184.7 L1071.5,1184.5 L1073.4,1184.3 L1075.3,1184.1 L1077.2,1183.9 L1079.1,1183.6 L1081.0,1183.4 L1083.0,1183.2 L1084.9,1182.9 L1086.8,1182.6 L1088.7,1182.4 L1090.6,1182.1 L1092.5,1181.8 L1094.4,1181.5 L1096.3,1181.2 L1098.2,1180.9 L1100.1,1180.6 L1102.0,1180.3 L1103.9,1180.0 L1105.8,1179.6 L1107.7,1179.3 L1109.6,1178.9 L1111.6,1178.5 L1113.5,1178.2 L1115.4,1177.8 L1117.3,1177.3 L1119.2,1176.9 L1121.1,1176.5 L1123.0,1176.0 L1124.9,1175.6 L1126.8,1175.1 L1128.7,1174.6 L1130.6,1174.1 L1132.5,1173.6 L1134.4,1173.0 L1136.3,1172.5 L1138.2,1171.9 L1140.2,1171.3 L1142.1,1170.7 L1144.0,1170.1 L1145.9,1169.4 L1147.8,1168.7 L1149.7,1168.1 L1151.6,1167.3 L1153.5,1166.6 L1155.4,1165.8 L1157.3,1165.0 L1159.2,1164.2 L1161.1,1163.3 L1163.0,1162.5 L1164.9,1161.6 L1166.8,1160.6 L1168.8,1159.6 L1170.7,1158.6 L1172.6,1157.6 L1174.5,1156.5 L1176.4,1155.4 L1178.3,1154.2 L1180.2,1153.0 L1182.1,1151.8 L1184.0,1150.5 L1185.9,1149.2 L1187.8,1147.8 L1189.7,1146.3 L1191.6,1144.9 L1193.5,1143.3 L1195.4,1141.7 L1197.3,1140.1 L1199.3,1138.3 L1201.2,1136.6 L1203.1,1134.7 L1205.0,1132.8 L1206.9,1130.8 L1208.8,1128.7 L1210.7,1126.6 L1212.6,1124.4 L1214.5,1122.1 L1216.4,1119.7 L1218.3,1117.2 L1220.2,1114.6 L1222.1,1111.9 L1224.0,1109.1 L1225.9,1106.2 L1227.9,1103.2 L1229.8,1100.1 L1231.7,1096.9 L1233.6,1093.5 L1235.5,1090.0 L1237.4,1086.4 L1239.3,1082.7 L1241.2,1078.8 L1243.1,1074.7 L1245.0,1070.5 L1246.9,1066.1 L1248.8,1061.6 L1250.7,1056.9 L1252.6,1052.0 L1254.5,1046.9 L1256.5,1041.7 L1258.4,1036.2 L1260.3,1030.6 L1262.2,1024.7 L1264.1,1018.6 L1266.0,1012.3 L1267.9,1005.8 L1269.8,999.0 L1271.7,992.0 L1273.6,984.8 L1275.5,977.3 L1277.4,969.6 L1279.3,961.6 L1281.2,953.3 L1283.1,944.7 L1285.1,935.9 L1287.0,926.8 L1288.9,917.5 L1290.8,907.8 L1292.7,897.9 L1294.6,887.6 L1296.5,877.1 L1298.4,866.3 L1300.3,855.3 L1302.2,843.9 L1304.1,832.3 L1306.0,820.4 L1307.9,808.2 L1309.8,795.8 L1311.7,783.1 L1313.6,770.2 L1315.6,757.0 L1317.5,743.6 L1319.4,730.0 L1321.3,716.3 L1323.2,702.3 L1325.1,688.2 L1327.0,674.0 L1328.9,659.6 L1330.8,645.1 L1332.7,630.6 L1334.6,616.0 L1336.5,601.4 L1338.4,586.7 L1340.3,572.1 L1342.2,557.5 L1344.2,542.9 L1346.1,528.5 L1348.0,514.1 L1349.9,499.9 L1351.8,485.9 L1353.7,472.0 L1355.6,458.3 L1357.5,444.9 L1359.4,431.7 L1361.3,418.7 L1363.2,406.0 L1365.1,393.6 L1367.0,381.5 L1368.9,369.7 L1370.8,358.3 L1372.8,347.2 L1374.7,336.4 L1376.6,326.0 L1378.5,316.0 L1380.4,306.3 L1382.3,296.9 L1384.2,288.0 L1386.1,279.4 L1388.0,271.1 L1389.9,263.2 L1391.8,255.7 L1393.7,248.5 L1395.6,241.6 L1397.5,235.1 L1399.4,228.9 L1401.4,223.0 L1403.3,217.4 L1405.2,212.1 L1407.1,207.1 L1409.0,202.4 L1410.9,197.9 L1412.8,193.7 L1414.7,189.8 L1416.6,186.1 L1418.5,182.6 L1420.4,179.3 L1422.3,176.3 L1424.2,173.4 L1426.1,170.7 L1428.0,168.2 L1429.9,165.9 L1431.9,163.7 L1433.8,161.6 L1435.7,159.8 L1437.6,158.0 L1439.5,156.4 L1441.4,154.8 L1443.3,153.4 L1445.2,152.1 L1447.1,150.9 L1449.0,149.8 L1450.9,148.8 L1452.8,147.8 L1454.7,146.9 L1456.6,146.1 L1458.5,145.4 L1460.5,144.7 L1462.4,144.0 L1464.3,143.5 L1466.2,142.9 L1468.1,142.4 L1470.0,142.0 L1471.9,141.6 L1473.8,141.2 L1475.7,140.9 L1477.6,140.5 L1479.5,140.3 L1481.4,140.0 L1483.3,139.8 L1485.2,139.5 L1487.1,139.3 L1489.1,139.2 L1491.0,139.0 L1492.9,138.8 L1494.8,138.7 L1496.7,138.6 L1498.6,138.5 L1500.5,138.4 L1502.4,138.3 L1504.3,138.2 L1506.2,138.1 L1508.1,138.1 L1510.0,138.0 L1511.9,137.9 L1513.8,137.9 L1515.7,137.9 L1517.7,137.8 L1519.6,137.8 L1521.5,137.8 L1523.4,137.7 L1525.3,137.7 L1527.2,137.7 L1529.1,137.7 L1531.0,137.6 L1532.9,137.6 L1534.8,137.6 L1536.7,137.6 L1538.6,137.6 L1540.5,137.6 L1542.4,137.6 L1544.3,137.6 L1546.2,137.5 L1548.2,137.5 L1550.1,137.5 L1552.0,137.5 L1553.9,137.5 L1555.8,137.5 L1557.7,137.5 L1559.6,137.5 L1561.5,137.5 L1563.4,137.5 L1565.3,137.5 L1567.2,137.5 L1569.1,137.5 L1571.0,137.5 L1572.9,137.5 L1574.8,137.5 L1576.8,137.5 L1578.7,137.5 L1580.6,137.5 L1582.5,137.5 L1584.4,137.5 L1586.3,137.5 L1588.2,137.5 L1590.1,137.5 L1592.0,137.5 L1593.9,137.5 L1595.8,137.5 L1597.7,137.5 L1599.6,137.5 L1601.5,137.5 L1603.4,137.5 L1605.4,137.5 L1607.3,137.5 L1609.2,137.5 L1611.1,137.5 L1613.0,137.5 L1614.9,137.5 L1616.8,137.5 L1618.7,137.5 L1620.6,137.5 L1622.5,137.5 L1624.4,137.5 L1626.3,137.5 L1628.2,137.5 L1630.1,137.5 L1632.0,137.5 L1634.0,137.5 L1635.9,137.5 L1637.8,137.5 L1639.7,137.5 L1641.6,137.5 L1643.5,137.5 L1645.4,137.5 L1647.3,137.5 L1649.2,137.5 L1651.1,137.5 L1653.0,137.5 L1654.9,137.5 L1656.8,137.5 L1658.7,137.5 L1660.6,137.5 L1662.5,137.5 L1664.5,137.5 L1666.4,137.5 L1668.3,137.5 L1670.2,137.5 L1672.1,137.5 L1674.0,137.5 L1675.9,137.5 L1677.8,137.5 L1679.7,137.5 L1681.6,137.5 L1683.5,137.5 L1685.4,137.5 L1687.3,137.5 L1689.2,137.5 L1691.1,137.5 L1693.1,137.5 L1695.0,137.5 L1696.9,137.5 L1698.8,137.5 L1700.7,137.5 L1702.6,137.5 L1704.5,137.5 L1706.4,137.5 L1708.3,137.5 L1710.2,137.5 L1712.1,137.5 L1714.0,137.5 L1715.9,137.5 L1717.8,137.5 L1719.7,137.5 L1721.7,137.5 L1723.6,137.5 L1725.5,137.5 L1727.4,137.5 L1729.3,137.5 L1731.2,137.5 L1733.1,137.5 L1735.0,137.5 L1736.9,137.5 L1738.8,137.5 L1740.7,137.5 L1742.6,137.5 L1744.5,137.5 L1746.4,137.5 L1748.3,137.5 L1750.3,137.5 L1752.2,137.5 L1754.1,137.5 L1756.0,137.5 L1757.9,137.5 L1759.8,137.5 L1761.7,137.5 L1763.6,137.5 L1765.5,137.5 L1767.4,137.5 L1769.3,137.5 L1771.2,137.5 L1773.1,137.5 L1775.0,137.5 L1776.9,137.5 L1778.8,137.5 L1780.8,137.5 L1782.7,137.5 L1784.6,137.5 L1786.5,137.5 L1788.4,137.5 L1790.3,137.5 L1792.2,137.5 L1794.1,137.5 L1796.0,137.5 L1797.9,137.5 L1799.8,137.5 L1801.7,137.5 L1803.6,137.5 L1805.5,137.5 L1807.4,137.5 L1809.4,137.5 L1811.3,137.5 L1813.2,137.5 L1815.1,137.5 L1817.0,137.5 L1818.9,137.5 L1820.8,137.5 L1822.7,137.5 L1824.6,137.5 L1826.5,137.5 L1828.4,137.5 L1830.3,137.5 L1832.2,137.5 L1834.1,137.5 L1836.0,137.5 L1838.0,137.5 L1839.9,137.5 L1841.8,137.5 L1843.7,137.5 L1845.6,137.5 L1847.5,137.5 L1849.4,137.5 L1851.3,137.5 L1853.2,137.5 L1855.1,137.5 L1857.0,137.5 L1858.9,137.5 L1860.8,137.5 L1862.7,137.5 L1864.6,137.5 L1866.6,137.5 L1868.5,137.5 L1870.4,137.5 L1872.3,137.5 L1874.2,137.5 L1876.1,137.5 L1878.0,137.5 L1879.9,137.5 L1881.8,137.5 L1883.7,137.5 L1885.6,137.5 L1887.5,137.5 L1889.4,137.5 L1891.3,137.5 L1893.2,137.5 L1895.1,137.5 L1897.1,137.5 L1899.0,137.5 L1900.9,137.5 L1902.8,137.5 L1904.7,137.5 L1906.6,137.5 L1908.5,137.5 L1910.4,137.5 L1912.3,137.5 L1914.2,137.5 L1916.1,137.5 L1918.0,137.5 L1919.9,137.5 L1921.8,137.5 L1923.7,137.5 L1925.7,137.5 L1927.6,137.5 L1929.5,137.5 L1931.4,137.5 L1933.3,137.5 L1935.2,137.5 L1937.1,137.5 L1939.0,137.5" fill="none" stroke="#ff0000" stroke-width="10.4" stroke-linejoin="round" stroke-linecap="butt"/>
<path transform="translate(0,-1.5)" d="M223.1,1192.8 L225.0,1192.8 L226.9,1192.8 L228.8,1192.8 L230.7,1192.8 L232.6,1192.8 L234.5,1192.8 L236.4,1192.7 L238.4,1192.7 L240.3,1192.7 L242.2,1192.7 L244.1,1192.7 L246.0,1192.7 L247.9,1192.7 L249.8,1192.7 L251.7,1192.7 L253.6,1192.7 L255.5,1192.7 L257.4,1192.7 L259.3,1192.7 L261.2,1192.7 L263.1,1192.7 L265.0,1192.7 L267.0,1192.7 L268.9,1192.7 L270.8,1192.7 L272.7,1192.7 L274.6,1192.7 L276.5,1192.7 L278.4,1192.7 L280.3,1192.7 L282.2,1192.7 L284.1,1192.7 L286.0,1192.7 L287.9,1192.7 L289.8,1192.7 L291.7,1192.6 L293.6,1192.6 L295.5,1192.6 L297.5,1192.6 L299.4,1192.6 L301.3,1192.6 L303.2,1192.6 L305.1,1192.6 L307.0,1192.6 L308.9,1192.6 L310.8,1192.6 L312.7,1192.6 L314.6,1192.6 L316.5,1192.6 L318.4,1192.6 L320.3,1192.6 L322.2,1192.6 L324.1,1192.6 L326.1,1192.6 L328.0,1192.6 L329.9,1192.6 L331.8,1192.6 L333.7,1192.5 L335.6,1192.5 L337.5,1192.5 L339.4,1192.5 L341.3,1192.5 L343.2,1192.5 L345.1,1192.5 L347.0,1192.5 L348.9,1192.5 L350.8,1192.5 L352.7,1192.5 L354.7,1192.5 L356.6,1192.5 L358.5,1192.5 L360.4,1192.5 L362.3,1192.5 L364.2,1192.5 L366.1,1192.5 L368.0,1192.5 L369.9,1192.4 L371.8,1192.4 L373.7,1192.4 L375.6,1192.4 L377.5,1192.4 L379.4,1192.4 L381.3,1192.4 L383.3,1192.4 L385.2,1192.4 L387.1,1192.4 L389.0,1192.4 L390.9,1192.4 L392.8,1192.4 L394.7,1192.4 L396.6,1192.4 L398.5,1192.4 L400.4,1192.3 L402.3,1192.3 L404.2,1192.3 L406.1,1192.3 L408.0,1192.3 L409.9,1192.3 L411.8,1192.3 L413.8,1192.3 L415.7,1192.3 L417.6,1192.3 L419.5,1192.3 L421.4,1192.3 L423.3,1192.3 L425.2,1192.3 L427.1,1192.2 L429.0,1192.2 L430.9,1192.2 L432.8,1192.2 L434.7,1192.2 L436.6,1192.2 L438.5,1192.2 L440.4,1192.2 L442.4,1192.2 L444.3,1192.2 L446.2,1192.2 L448.1,1192.2 L450.0,1192.1 L451.9,1192.1 L453.8,1192.1 L455.7,1192.1 L457.6,1192.1 L459.5,1192.1 L461.4,1192.1 L463.3,1192.1 L465.2,1192.1 L467.1,1192.1 L469.0,1192.0 L471.0,1192.0 L472.9,1192.0 L474.8,1192.0 L476.7,1192.0 L478.6,1192.0 L480.5,1192.0 L482.4,1192.0 L484.3,1192.0 L486.2,1192.0 L488.1,1191.9 L490.0,1191.9 L491.9,1191.9 L493.8,1191.9 L495.7,1191.9 L497.6,1191.9 L499.6,1191.9 L501.5,1191.9 L503.4,1191.9 L505.3,1191.8 L507.2,1191.8 L509.1,1191.8 L511.0,1191.8 L512.9,1191.8 L514.8,1191.8 L516.7,1191.8 L518.6,1191.8 L520.5,1191.7 L522.4,1191.7 L524.3,1191.7 L526.2,1191.7 L528.1,1191.7 L530.1,1191.7 L532.0,1191.7 L533.9,1191.6 L535.8,1191.6 L537.7,1191.6 L539.6,1191.6 L541.5,1191.6 L543.4,1191.6 L545.3,1191.6 L547.2,1191.5 L549.1,1191.5 L551.0,1191.5 L552.9,1191.5 L554.8,1191.5 L556.7,1191.5 L558.7,1191.4 L560.6,1191.4 L562.5,1191.4 L564.4,1191.4 L566.3,1191.4 L568.2,1191.4 L570.1,1191.3 L572.0,1191.3 L573.9,1191.3 L575.8,1191.3 L577.7,1191.3 L579.6,1191.2 L581.5,1191.2 L583.4,1191.2 L585.3,1191.2 L587.3,1191.2 L589.2,1191.2 L591.1,1191.1 L593.0,1191.1 L594.9,1191.1 L596.8,1191.1 L598.7,1191.0 L600.6,1191.0 L602.5,1191.0 L604.4,1191.0 L606.3,1191.0 L608.2,1190.9 L610.1,1190.9 L612.0,1190.9 L613.9,1190.9 L615.9,1190.8 L617.8,1190.8 L619.7,1190.8 L621.6,1190.8 L623.5,1190.7 L625.4,1190.7 L627.3,1190.7 L629.2,1190.7 L631.1,1190.6 L633.0,1190.6 L634.9,1190.6 L636.8,1190.6 L638.7,1190.5 L640.6,1190.5 L642.5,1190.5 L644.4,1190.4 L646.4,1190.4 L648.3,1190.4 L650.2,1190.4 L652.1,1190.3 L654.0,1190.3 L655.9,1190.3 L657.8,1190.2 L659.7,1190.2 L661.6,1190.2 L663.5,1190.1 L665.4,1190.1 L667.3,1190.1 L669.2,1190.0 L671.1,1190.0 L673.0,1190.0 L675.0,1189.9 L676.9,1189.9 L678.8,1189.8 L680.7,1189.8 L682.6,1189.8 L684.5,1189.7 L686.4,1189.7 L688.3,1189.7 L690.2,1189.6 L692.1,1189.6 L694.0,1189.5 L695.9,1189.5 L697.8,1189.4 L699.7,1189.4 L701.6,1189.4 L703.6,1189.3 L705.5,1189.3 L707.4,1189.2 L709.3,1189.2 L711.2,1189.1 L713.1,1189.1 L715.0,1189.0 L716.9,1189.0 L718.8,1188.9 L720.7,1188.9 L722.6,1188.8 L724.5,1188.8 L726.4,1188.7 L728.3,1188.7 L730.2,1188.6 L732.2,1188.5 L734.1,1188.5 L736.0,1188.4 L737.9,1188.4 L739.8,1188.3 L741.7,1188.3 L743.6,1188.2 L745.5,1188.1 L747.4,1188.1 L749.3,1188.0 L751.2,1187.9 L753.1,1187.9 L755.0,1187.8 L756.9,1187.7 L758.8,1187.7 L760.7,1187.6 L762.7,1187.5 L764.6,1187.4 L766.5,1187.4 L768.4,1187.3 L770.3,1187.2 L772.2,1187.1 L774.1,1187.0 L776.0,1187.0 L777.9,1186.9 L779.8,1186.8 L781.7,1186.7 L783.6,1186.6 L785.5,1186.5 L787.4,1186.4 L789.3,1186.3 L791.3,1186.2 L793.2,1186.1 L795.1,1186.0 L797.0,1185.9 L798.9,1185.8 L800.8,1185.7 L802.7,1185.6 L804.6,1185.5 L806.5,1185.4 L808.4,1185.3 L810.3,1185.2 L812.2,1185.1 L814.1,1184.9 L816.0,1184.8 L817.9,1184.7 L819.9,1184.6 L821.8,1184.4 L823.7,1184.3 L825.6,1184.2 L827.5,1184.0 L829.4,1183.9 L831.3,1183.8 L833.2,1183.6 L835.1,1183.5 L837.0,1183.3 L838.9,1183.2 L840.8,1183.0 L842.7,1182.9 L844.6,1182.7 L846.5,1182.5 L848.5,1182.4 L850.4,1182.2 L852.3,1182.0 L854.2,1181.8 L856.1,1181.6 L858.0,1181.5 L859.9,1181.3 L861.8,1181.1 L863.7,1180.9 L865.6,1180.7 L867.5,1180.4 L869.4,1180.2 L871.3,1180.0 L873.2,1179.8 L875.1,1179.6 L877.0,1179.3 L879.0,1179.1 L880.9,1178.8 L882.8,1178.6 L884.7,1178.3 L886.6,1178.1 L888.5,1177.8 L890.4,1177.5 L892.3,1177.3 L894.2,1177.0 L896.1,1176.7 L898.0,1176.4 L899.9,1176.1 L901.8,1175.8 L903.7,1175.5 L905.6,1175.1 L907.6,1174.8 L909.5,1174.4 L911.4,1174.1 L913.3,1173.7 L915.2,1173.4 L917.1,1173.0 L919.0,1172.6 L920.9,1172.2 L922.8,1171.8 L924.7,1171.4 L926.6,1170.9 L928.5,1170.5 L930.4,1170.1 L932.3,1169.6 L934.2,1169.1 L936.2,1168.6 L938.1,1168.1 L940.0,1167.6 L941.9,1167.1 L943.8,1166.6 L945.7,1166.0 L947.6,1165.4 L949.5,1164.9 L951.4,1164.3 L953.3,1163.6 L955.2,1163.0 L957.1,1162.4 L959.0,1161.7 L960.9,1161.0 L962.8,1160.3 L964.8,1159.6 L966.7,1158.9 L968.6,1158.1 L970.5,1157.3 L972.4,1156.5 L974.3,1155.7 L976.2,1154.8 L978.1,1153.9 L980.0,1153.0 L981.9,1152.1 L983.8,1151.2 L985.7,1150.2 L987.6,1149.2 L989.5,1148.1 L991.4,1147.1 L993.3,1146.0 L995.3,1144.8 L997.2,1143.7 L999.1,1142.5 L1001.0,1141.2 L1002.9,1140.0 L1004.8,1138.6 L1006.7,1137.3 L1008.6,1135.9 L1010.5,1134.5 L1012.4,1133.0 L1014.3,1131.5 L1016.2,1129.9 L1018.1,1128.3 L1020.0,1126.6 L1021.9,1124.9 L1023.9,1123.1 L1025.8,1121.3 L1027.7,1119.4 L1029.6,1117.4 L1031.5,1115.4 L1033.4,1113.4 L1035.3,1111.2 L1037.2,1109.0 L1039.1,1106.7 L1041.0,1104.4 L1042.9,1102.0 L1044.8,1099.5 L1046.7,1096.9 L1048.6,1094.2 L1050.5,1091.5 L1052.5,1088.6 L1054.4,1085.7 L1056.3,1082.7 L1058.2,1079.6 L1060.1,1076.3 L1062.0,1073.0 L1063.9,1069.6 L1065.8,1066.0 L1067.7,1062.4 L1069.6,1058.6 L1071.5,1054.7 L1073.4,1050.7 L1075.3,1046.6 L1077.2,1042.3 L1079.1,1037.9 L1081.0,1033.3 L1083.0,1028.6 L1084.9,1023.8 L1086.8,1018.8 L1088.7,1013.7 L1090.6,1008.4 L1092.5,1002.9 L1094.4,997.3 L1096.3,991.4 L1098.2,985.5 L1100.1,979.3 L1102.0,973.0 L1103.9,966.4 L1105.8,959.7 L1107.7,952.8 L1109.6,945.7 L1111.6,938.4 L1113.5,930.9 L1115.4,923.2 L1117.3,915.3 L1119.2,907.1 L1121.1,898.8 L1123.0,890.2 L1124.9,881.5 L1126.8,872.5 L1128.7,863.3 L1130.6,853.9 L1132.5,844.3 L1134.4,834.5 L1136.3,824.5 L1138.2,814.2 L1140.2,803.8 L1142.1,793.2 L1144.0,782.4 L1145.9,771.3 L1147.8,760.2 L1149.7,748.8 L1151.6,737.3 L1153.5,725.6 L1155.4,713.7 L1157.3,701.7 L1159.2,689.6 L1161.1,677.4 L1163.0,665.1 L1164.9,652.6 L1166.8,640.1 L1168.8,627.6 L1170.7,614.9 L1172.6,602.3 L1174.5,589.6 L1176.4,576.9 L1178.3,564.2 L1180.2,551.6 L1182.1,538.9 L1184.0,526.4 L1185.9,513.9 L1187.8,501.5 L1189.7,489.2 L1191.6,477.0 L1193.5,465.0 L1195.4,453.1 L1197.3,441.4 L1199.3,429.8 L1201.2,418.5 L1203.1,407.3 L1205.0,396.4 L1206.9,385.6 L1208.8,375.1 L1210.7,364.9 L1212.6,354.9 L1214.5,345.2 L1216.4,335.7 L1218.3,326.5 L1220.2,317.5 L1222.1,308.9 L1224.0,300.5 L1225.9,292.4 L1227.9,284.5 L1229.8,277.0 L1231.7,269.7 L1233.6,262.7 L1235.5,256.0 L1237.4,249.5 L1239.3,243.3 L1241.2,237.4 L1243.1,231.7 L1245.0,226.3 L1246.9,221.1 L1248.8,216.2 L1250.7,211.5 L1252.6,207.0 L1254.5,202.8 L1256.5,198.7 L1258.4,194.9 L1260.3,191.3 L1262.2,187.8 L1264.1,184.6 L1266.0,181.5 L1267.9,178.6 L1269.8,175.9 L1271.7,173.3 L1273.6,170.8 L1275.5,168.6 L1277.4,166.4 L1279.3,164.4 L1281.2,162.5 L1283.1,160.7 L1285.1,159.0 L1287.0,157.5 L1288.9,156.0 L1290.8,154.6 L1292.7,153.4 L1294.6,152.2 L1296.5,151.1 L1298.4,150.0 L1300.3,149.1 L1302.2,148.2 L1304.1,147.3 L1306.0,146.6 L1307.9,145.8 L1309.8,145.2 L1311.7,144.6 L1313.6,144.0 L1315.6,143.4 L1317.5,143.0 L1319.4,142.5 L1321.3,142.1 L1323.2,141.7 L1325.1,141.3 L1327.0,141.0 L1328.9,140.7 L1330.8,140.4 L1332.7,140.2 L1334.6,139.9 L1336.5,139.7 L1338.4,139.5 L1340.3,139.3 L1342.2,139.2 L1344.2,139.0 L1346.1,138.9 L1348.0,138.7 L1349.9,138.6 L1351.8,138.5 L1353.7,138.4 L1355.6,138.3 L1357.5,138.3 L1359.4,138.2 L1361.3,138.1 L1363.2,138.1 L1365.1,138.0 L1367.0,137.9 L1368.9,137.9 L1370.8,137.9 L1372.8,137.8 L1374.7,137.8 L1376.6,137.8 L1378.5,137.7 L1380.4,137.7 L1382.3,137.7 L1384.2,137.7 L1386.1,137.6 L1388.0,137.6 L1389.9,137.6 L1391.8,137.6 L1393.7,137.6 L1395.6,137.6 L1397.5,137.6 L1399.4,137.6 L1401.4,137.6 L1403.3,137.6 L1405.2,137.5 L1407.1,137.5 L1409.0,137.5 L1410.9,137.5 L1412.8,137.5 L1414.7,137.5 L1416.6,137.5 L1418.5,137.5 L1420.4,137.5 L1422.3,137.5 L1424.2,137.5 L1426.1,137.5 L1428.0,137.5 L1429.9,137.5 L1431.9,137.5 L1433.8,137.5 L1435.7,137.5 L1437.6,137.5 L1439.5,137.5 L1441.4,137.5 L1443.3,137.5 L1445.2,137.5 L1447.1,137.5 L1449.0,137.5 L1450.9,137.5 L1452.8,137.5 L1454.7,137.5 L1456.6,137.5 L1458.5,137.5 L1460.5,137.5 L1462.4,137.5 L1464.3,137.5 L1466.2,137.5 L1468.1,137.5 L1470.0,137.5 L1471.9,137.5 L1473.8,137.5 L1475.7,137.5 L1477.6,137.5 L1479.5,137.5 L1481.4,137.5 L1483.3,137.5 L1485.2,137.5 L1487.1,137.5 L1489.1,137.5 L1491.0,137.5 L1492.9,137.5 L1494.8,137.5 L1496.7,137.5 L1498.6,137.5 L1500.5,137.5 L1502.4,137.5 L1504.3,137.5 L1506.2,137.5 L1508.1,137.5 L1510.0,137.5 L1511.9,137.5 L1513.8,137.5 L1515.7,137.5 L1517.7,137.5 L1519.6,137.5 L1521.5,137.5 L1523.4,137.5 L1525.3,137.5 L1527.2,137.5 L1529.1,137.5 L1531.0,137.5 L1532.9,137.5 L1534.8,137.5 L1536.7,137.5 L1538.6,137.5 L1540.5,137.5 L1542.4,137.5 L1544.3,137.5 L1546.2,137.5 L1548.2,137.5 L1550.1,137.5 L1552.0,137.5 L1553.9,137.5 L1555.8,137.5 L1557.7,137.5 L1559.6,137.5 L1561.5,137.5 L1563.4,137.5 L1565.3,137.5 L1567.2,137.5 L1569.1,137.5 L1571.0,137.5 L1572.9,137.5 L1574.8,137.5 L1576.8,137.5 L1578.7,137.5 L1580.6,137.5 L1582.5,137.5 L1584.4,137.5 L1586.3,137.5 L1588.2,137.5 L1590.1,137.5 L1592.0,137.5 L1593.9,137.5 L1595.8,137.5 L1597.7,137.5 L1599.6,137.5 L1601.5,137.5 L1603.4,137.5 L1605.4,137.5 L1607.3,137.5 L1609.2,137.5 L1611.1,137.5 L1613.0,137.5 L1614.9,137.5 L1616.8,137.5 L1618.7,137.5 L1620.6,137.5 L1622.5,137.5 L1624.4,137.5 L1626.3,137.5 L1628.2,137.5 L1630.1,137.5 L1632.0,137.5 L1634.0,137.5 L1635.9,137.5 L1637.8,137.5 L1639.7,137.5 L1641.6,137.5 L1643.5,137.5 L1645.4,137.5 L1647.3,137.5 L1649.2,137.5 L1651.1,137.5 L1653.0,137.5 L1654.9,137.5 L1656.8,137.5 L1658.7,137.5 L1660.6,137.5 L1662.5,137.5 L1664.5,137.5 L1666.4,137.5 L1668.3,137.5 L1670.2,137.5 L1672.1,137.5 L1674.0,137.5 L1675.9,137.5 L1677.8,137.5 L1679.7,137.5 L1681.6,137.5 L1683.5,137.5 L1685.4,137.5 L1687.3,137.5 L1689.2,137.5 L1691.1,137.5 L1693.1,137.5 L1695.0,137.5 L1696.9,137.5 L1698.8,137.5 L1700.7,137.5 L1702.6,137.5 L1704.5,137.5 L1706.4,137.5 L1708.3,137.5 L1710.2,137.5 L1712.1,137.5 L1714.0,137.5 L1715.9,137.5 L1717.8,137.5 L1719.7,137.5 L1721.7,137.5 L1723.6,137.5 L1725.5,137.5 L1727.4,137.5 L1729.3,137.5 L1731.2,137.5 L1733.1,137.5 L1735.0,137.5 L1736.9,137.5 L1738.8,137.5 L1740.7,137.5 L1742.6,137.5 L1744.5,137.5 L1746.4,137.5 L1748.3,137.5 L1750.3,137.5 L1752.2,137.5 L1754.1,137.5 L1756.0,137.5 L1757.9,137.5 L1759.8,137.5 L1761.7,137.5 L1763.6,137.5 L1765.5,137.5 L1767.4,137.5 L1769.3,137.5 L1771.2,137.5 L1773.1,137.5 L1775.0,137.5 L1776.9,137.5 L1778.8,137.5 L1780.8,137.5 L1782.7,137.5 L1784.6,137.5 L1786.5,137.5 L1788.4,137.5 L1790.3,137.5 L1792.2,137.5 L1794.1,137.5 L1796.0,137.5 L1797.9,137.5 L1799.8,137.5 L1801.7,137.5 L1803.6,137.5 L1805.5,137.5 L1807.4,137.5 L1809.4,137.5 L1811.3,137.5 L1813.2,137.5 L1815.1,137.5 L1817.0,137.5 L1818.9,137.5 L1820.8,137.5 L1822.7,137.5 L1824.6,137.5 L1826.5,137.5 L1828.4,137.5 L1830.3,137.5 L1832.2,137.5 L1834.1,137.5 L1836.0,137.5 L1838.0,137.5 L1839.9,137.5 L1841.8,137.5 L1843.7,137.5 L1845.6,137.5 L1847.5,137.5 L1849.4,137.5 L1851.3,137.5 L1853.2,137.5 L1855.1,137.5 L1857.0,137.5 L1858.9,137.5 L1860.8,137.5 L1862.7,137.5 L1864.6,137.5 L1866.6,137.5 L1868.5,137.5 L1870.4,137.5 L1872.3,137.5 L1874.2,137.5 L1876.1,137.5 L1878.0,137.5 L1879.9,137.5 L1881.8,137.5 L1883.7,137.5 L1885.6,137.5 L1887.5,137.5 L1889.4,137.5 L1891.3,137.5 L1893.2,137.5 L1895.1,137.5 L1897.1,137.5 L1899.0,137.5 L1900.9,137.5 L1902.8,137.5 L1904.7,137.5 L1906.6,137.5 L1908.5,137.5 L1910.4,137.5 L1912.3,137.5 L1914.2,137.5 L1916.1,137.5 L1918.0,137.5 L1919.9,137.5 L1921.8,137.5 L1923.7,137.5 L1925.7,137.5 L1927.6,137.5 L1929.5,137.5 L1931.4,137.5 L1933.3,137.5 L1935.2,137.5 L1937.1,137.5 L1939.0,137.5" fill="none" stroke="#000000" stroke-width="10.4" stroke-linejoin="round" stroke-linecap="butt"/>
<line x1="1052.0" y1="415.0" x2="1295.8" y2="637.6" stroke="#f00" stroke-width="7.0"/><path d="M1320.7,663.0 L1288.0,643.1 L1300.6,629.3 L1323.3,660.0 Z" fill="#f00"/>
<line x1="1057.0" y1="573.5" x2="1129.8" y2="637.7" stroke="#000" stroke-width="7.0"/><path d="M1155.1,662.7 L1122.1,643.4 L1134.4,629.4 L1157.7,659.7 Z" fill="#000"/>
<line x1="1694.5" y1="927.5" x2="1454.6" y2="697.3" stroke="#00f" stroke-width="7.0"/><path d="M1430.4,671.3 L1462.5,692.0 L1449.6,705.4 L1427.6,674.1 Z" fill="#00f"/>
<text x="116.93" y="1211.8" font-size="64" class="b" fill="#000" textLength="77.63" lengthAdjust="spacingAndGlyphs">0.0</text>
<text x="116.92" y="1000.2" font-size="64" class="b" fill="#000" textLength="77.95" lengthAdjust="spacingAndGlyphs">0.2</text>
<text x="116.97" y="788.6" font-size="64" class="b" fill="#000" textLength="76.36" lengthAdjust="spacingAndGlyphs">0.4</text>
<text x="116.95" y="577.0" font-size="64" class="b" fill="#000" textLength="77.05" lengthAdjust="spacingAndGlyphs">0.6</text>
<text x="116.94" y="365.4" font-size="64" class="b" fill="#000" textLength="77.31" lengthAdjust="spacingAndGlyphs">0.8</text>
<text x="119.39" y="153.8" font-size="64" class="b" fill="#000" textLength="75.10" lengthAdjust="spacingAndGlyphs">1.0</text>
<text x="210.08" y="1375.5" font-size="64" class="b" fill="#000" textLength="24.45" lengthAdjust="spacingAndGlyphs">1</text>
<text x="766.19" y="1375.5" font-size="64" class="b" fill="#000" textLength="61.35" lengthAdjust="spacingAndGlyphs">10</text>
<text x="1320.33" y="1375.5" font-size="64" class="b" fill="#000" textLength="93.14" lengthAdjust="spacingAndGlyphs">100</text>
<text x="1879.24" y="1375.5" font-size="64" class="b" fill="#000" textLength="121.26" lengthAdjust="spacingAndGlyphs">1000</text>
<text x="783.21" y="1452.5" font-size="66" class="b" fill="#000" textLength="595.67" lengthAdjust="spacingAndGlyphs">Ignition energy (mJ)</text>
<text transform="translate(69.3,1000) rotate(-90)" x="-2.31" y="0" font-size="67" class="b" fill="#000" textLength="577.98" lengthAdjust="spacingAndGlyphs">Ignition probability</text>
<text x="323.08" y="157" font-size="64" class="b" fill="#000" textLength="142.47" lengthAdjust="spacingAndGlyphs">RP-3</text>
<text fill="#000"><tspan x="323.38" y="241.2" font-size="64" class="b i" textLength="40.45" lengthAdjust="spacingAndGlyphs">T</tspan> <tspan x="362.68" y="241.2" font-size="50" class="b i" textLength="27.65" lengthAdjust="spacingAndGlyphs">u</tspan> <tspan x="406.01" y="241.2" font-size="64" class="b" textLength="44.50" lengthAdjust="spacingAndGlyphs">=</tspan> <tspan x="464.39" y="241.2" font-size="64" class="b" textLength="99.99" lengthAdjust="spacingAndGlyphs">413</tspan> <tspan x="586.25" y="241.2" font-size="64" class="b" textLength="47.93" lengthAdjust="spacingAndGlyphs">K</tspan></text>
<text fill="#000"><tspan x="325.22" y="335" font-size="64" class="b i" textLength="36.24" lengthAdjust="spacingAndGlyphs">ϕ</tspan> <tspan x="388.81" y="335" font-size="64" class="b" textLength="44.50" lengthAdjust="spacingAndGlyphs">=</tspan> <tspan x="447.65" y="335" font-size="64" class="b" textLength="83.79" lengthAdjust="spacingAndGlyphs">0.7</tspan></text>
<text fill="#f00"><tspan x="627.04" y="402.3" font-size="66" class="b" textLength="135.95" lengthAdjust="spacingAndGlyphs">MIE</tspan> <tspan x="762.27" y="402.3" font-size="35" class="b" textLength="20.60" lengthAdjust="spacingAndGlyphs">2</tspan> <tspan x="795.70" y="400.3" font-size="66" class="b" textLength="46.95" lengthAdjust="spacingAndGlyphs">=</tspan> <tspan x="854.97" y="402.3" font-size="66" class="b" textLength="151.32" lengthAdjust="spacingAndGlyphs">85.32</tspan> <tspan x="1024.95" y="402.3" font-size="66" class="b" textLength="86.93" lengthAdjust="spacingAndGlyphs">mJ</tspan></text>
<text fill="#000"><tspan x="633.05" y="557.0" font-size="66" class="b" textLength="134.50" lengthAdjust="spacingAndGlyphs">MIE</tspan> <tspan x="765.96" y="557.0" font-size="35" class="b" textLength="19.15" lengthAdjust="spacingAndGlyphs">3</tspan> <tspan x="799.85" y="555.0" font-size="66" class="b" textLength="45.23" lengthAdjust="spacingAndGlyphs">=</tspan> <tspan x="858.86" y="557.0" font-size="66" class="b" textLength="153.91" lengthAdjust="spacingAndGlyphs">43.89</tspan> <tspan x="1029.92" y="557.0" font-size="66" class="b" textLength="83.29" lengthAdjust="spacingAndGlyphs">mJ</tspan></text>
<text fill="#00f"><tspan x="1397.72" y="984.9" font-size="66" class="b" textLength="137.60" lengthAdjust="spacingAndGlyphs">MIE</tspan> <tspan x="1533.16" y="984.9" font-size="35" class="b" textLength="17.11" lengthAdjust="spacingAndGlyphs">1</tspan> <tspan x="1566.26" y="982.9" font-size="66" class="b" textLength="45.11" lengthAdjust="spacingAndGlyphs">=</tspan> <tspan x="1625.22" y="984.9" font-size="66" class="b" textLength="184.71" lengthAdjust="spacingAndGlyphs">124.49</tspan> <tspan x="1829.26" y="984.9" font-size="66" class="b" textLength="91.42" lengthAdjust="spacingAndGlyphs">mJ</tspan></text>
<path d="M334.2,825.5 L348.9,851.8 L319.5,851.8 Z" fill="none" stroke="#00f" stroke-width="5.0" stroke-linejoin="miter"/>
<text fill="#000"><tspan x="401.50" y="862.4" font-size="66" class="i" textLength="38.42" lengthAdjust="spacingAndGlyphs">p</tspan> <tspan x="437.51" y="881.4" font-size="40" class="i" textLength="25.96" lengthAdjust="spacingAndGlyphs">u</tspan> <tspan x="474.22" y="862.4" font-size="66" class="" textLength="46.18" lengthAdjust="spacingAndGlyphs">=</tspan> <tspan x="532.67" y="862.4" font-size="66" class="" textLength="86.45" lengthAdjust="spacingAndGlyphs">0.2</tspan> <tspan x="636.52" y="862.4" font-size="66" class="" textLength="101.64" lengthAdjust="spacingAndGlyphs">atm</tspan></text>
<ellipse cx="333.9" cy="943.3" rx="13.85" ry="12.90" fill="none" stroke="#f00" stroke-width="5.0"/>
<text fill="#000"><tspan x="401.50" y="963.4" font-size="66" class="i" textLength="38.42" lengthAdjust="spacingAndGlyphs">p</tspan> <tspan x="437.51" y="982.4" font-size="40" class="i" textLength="25.96" lengthAdjust="spacingAndGlyphs">u</tspan> <tspan x="474.22" y="963.4" font-size="66" class="" textLength="46.18" lengthAdjust="spacingAndGlyphs">=</tspan> <tspan x="532.70" y="963.4" font-size="66" class="" textLength="85.26" lengthAdjust="spacingAndGlyphs">0.3</tspan> <tspan x="636.52" y="963.4" font-size="66" class="" textLength="101.64" lengthAdjust="spacingAndGlyphs">atm</tspan></text>
<rect x="322.9" y="1032.6" width="24.2" height="24.2" fill="none" stroke="#000" stroke-width="5.0"/>
<text fill="#000"><tspan x="401.50" y="1065.8" font-size="66" class="i" textLength="38.42" lengthAdjust="spacingAndGlyphs">p</tspan> <tspan x="437.51" y="1084.8" font-size="40" class="i" textLength="25.96" lengthAdjust="spacingAndGlyphs">u</tspan> <tspan x="474.22" y="1065.8" font-size="66" class="" textLength="46.18" lengthAdjust="spacingAndGlyphs">=</tspan> <tspan x="532.70" y="1065.8" font-size="66" class="" textLength="85.26" lengthAdjust="spacingAndGlyphs">0.5</tspan> <tspan x="636.52" y="1065.8" font-size="66" class="" textLength="101.64" lengthAdjust="spacingAndGlyphs">atm</tspan></text>
</svg></body></html>
